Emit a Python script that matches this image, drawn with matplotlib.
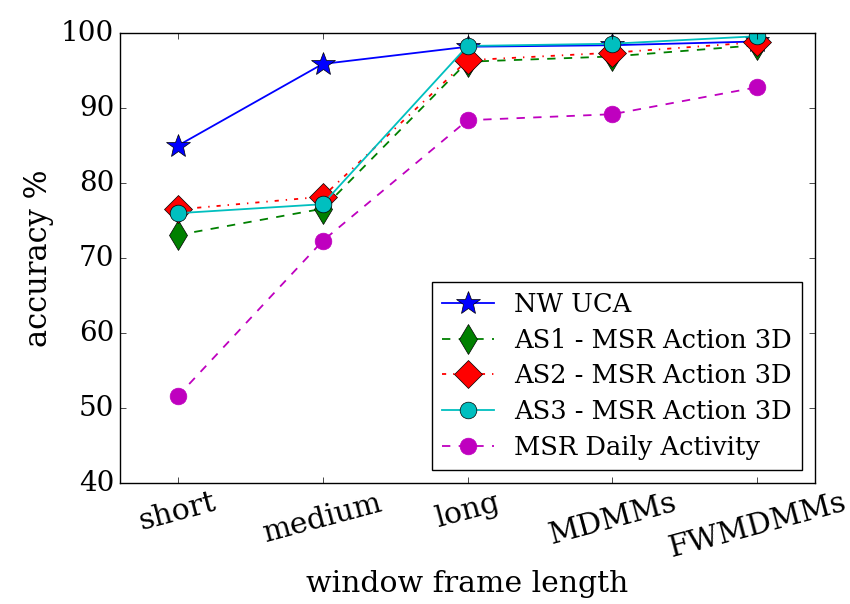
import matplotlib
matplotlib.use('Agg')
import matplotlib.pyplot as plt
import numpy as np

plt.style.use('classic')
plt.rcParams['font.family'] = 'DejaVu Serif'

categories = ['short', 'medium', 'long', 'MDMMs', 'FWMDMMs']
nw_uca = [85.0, 95.9, 98.2, 98.4, 98.9]
as1 = [73.1, 76.6, 96.2, 96.9, 98.4]
as2 = [76.5, 78.2, 96.4, 97.4, 98.8]
as3 = [76.0, 77.2, 98.3, 98.6, 99.6]
daily = [51.6, 72.3, 88.4, 89.2, 92.8]

x = np.arange(len(categories))

fig = plt.figure(figsize=(8.5, 6.04), dpi=100)
ax = fig.add_axes([0.141, 0.2, 0.818, 0.745])

lw = 1.3
ax.plot(x, nw_uca, 'b-', lw=lw, marker='*', markersize=18, label='NW UCA')
ax.plot(x, as1, 'g--', lw=lw, marker='d', markersize=15, label='AS1 - MSR Action 3D')
ax.plot(x, as2, 'r-.', lw=lw, marker='D', markersize=14, label='AS2 - MSR Action 3D')
ax.plot(x, as3, 'c-', lw=lw, marker='o', markersize=12, label='AS3 - MSR Action 3D')
ax.plot(x, daily, 'm--', lw=lw, marker='o', markersize=12, markeredgecolor='m',
        label='MSR Daily Activity')

ax.set_xlim(-0.4, 4.4)
ax.set_ylim(40, 100)
ax.set_xticks(x)
ax.set_xticklabels(categories, rotation=15, fontsize=21.5)
ax.tick_params(axis='y', labelsize=20)
ax.set_xlabel('window frame length', fontsize=21.5)
ax.set_ylabel('accuracy %', fontsize=22)

ax.legend(loc='lower right', numpoints=1, fontsize=18.5, labelspacing=0.42)

fig.savefig('out.png', dpi=100)
